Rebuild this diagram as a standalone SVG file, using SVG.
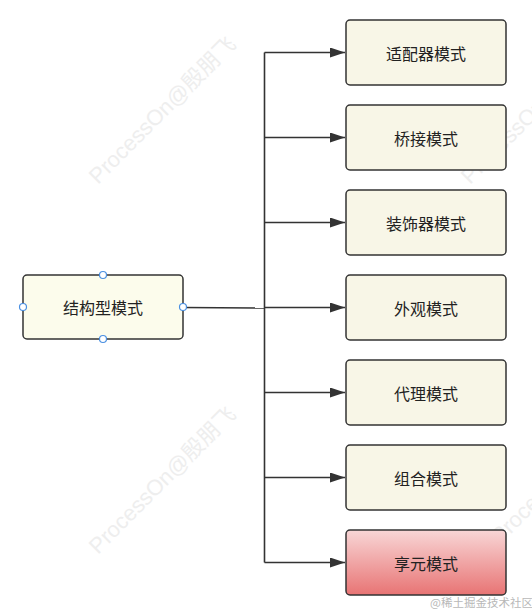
<svg xmlns="http://www.w3.org/2000/svg" width="532" height="613" viewBox="0 0 532 613">
<style>
.wm{font-family:"Liberation Sans","Noto Sans CJK SC",sans-serif;font-size:22px;fill:#eeeeee;}
.box{fill:#f8f6e7;stroke:#333;stroke-width:1.5;}
.lbl{font-family:"Noto Sans CJK SC","Liberation Sans",sans-serif;font-size:16px;fill:#222;text-anchor:middle;dominant-baseline:central;}
.con{fill:none;stroke:#333;stroke-width:1.6;}
.h{fill:#fff;stroke:#4a90e2;stroke-width:1.2;}
</style>
<defs>
<marker id="ah" markerWidth="16" markerHeight="10" refX="15" refY="5" orient="auto" markerUnits="userSpaceOnUse">
<path d="M0,0 L15,5 L0,10 Z" fill="#333"/>
</marker>
<linearGradient id="red" x1="0" y1="0" x2="0" y2="1">
<stop offset="0" stop-color="#f8d6d6"/>
<stop offset="1" stop-color="#e87474"/>
</linearGradient>
</defs>
<rect width="532" height="613" fill="#fff"/>
<g id="watermarks">
<text class="wm" transform="translate(98,185) rotate(-45)">ProcessOn@殷朋飞</text>
<text class="wm" transform="translate(98,555) rotate(-45)">ProcessOn@殷朋飞</text>
<text class="wm" transform="translate(470,185) rotate(-45)">ProcessOn@殷朋飞</text>
<text class="wm" transform="translate(500,545) rotate(-45)">ProcessOn@殷朋飞</text>
</g>
<g id="connectors">
<path class="con" d="M183,307.5 L264.5,308" stroke-width="2.4"/>
<path class="con" d="M264.5,52.5 L264.5,562.5"/>
<path class="con" marker-end="url(#ah)" d="M264.5,52.5 L345,52.5"/>
<path class="con" marker-end="url(#ah)" d="M264.5,137.5 L345,137.5"/>
<path class="con" marker-end="url(#ah)" d="M264.5,222.5 L345,222.5"/>
<path class="con" marker-end="url(#ah)" d="M264.5,307.5 L345,307.5"/>
<path class="con" marker-end="url(#ah)" d="M264.5,392.5 L345,392.5"/>
<path class="con" marker-end="url(#ah)" d="M264.5,477.5 L345,477.5"/>
<path class="con" marker-end="url(#ah)" d="M264.5,562.5 L345,562.5"/>
</g>
<g id="main">
<rect x="23" y="275" width="160" height="64" rx="4" fill="#fcfcec" stroke="#333" stroke-width="1.5"/>
<text class="lbl" x="103" y="307">结构型模式</text>
<circle class="h" cx="103" cy="275" r="3.5"/>
<circle class="h" cx="103" cy="339" r="3.5"/>
<circle class="h" cx="23" cy="307" r="3.5"/>
<circle class="h" cx="183" cy="307" r="3.5"/>
</g>
<g id="n1"><rect class="box" x="346" y="20" width="160" height="65" rx="4"/><text class="lbl" x="426" y="52.5">适配器模式</text></g>
<g id="n2"><rect class="box" x="346" y="105" width="160" height="65" rx="4"/><text class="lbl" x="426" y="137.5">桥接模式</text></g>
<g id="n3"><rect class="box" x="346" y="190" width="160" height="65" rx="4"/><text class="lbl" x="426" y="222.5">装饰器模式</text></g>
<g id="n4"><rect class="box" x="346" y="275" width="160" height="65" rx="4"/><text class="lbl" x="426" y="307.5">外观模式</text></g>
<g id="n5"><rect class="box" x="346" y="360" width="160" height="65" rx="4"/><text class="lbl" x="426" y="392.5">代理模式</text></g>
<g id="n6"><rect class="box" x="346" y="445" width="160" height="65" rx="4"/><text class="lbl" x="426" y="477.5">组合模式</text></g>
<g id="n7"><rect x="346" y="530" width="160" height="65" rx="4" fill="url(#red)" stroke="#333" stroke-width="1.5"/><text class="lbl" x="426" y="562.5">享元模式</text></g>
<text x="430" y="607" font-family="'Noto Sans CJK SC',serif" font-size="11.5" fill="#b8b8b8">@稀土掘金技术社区</text>
</svg>
